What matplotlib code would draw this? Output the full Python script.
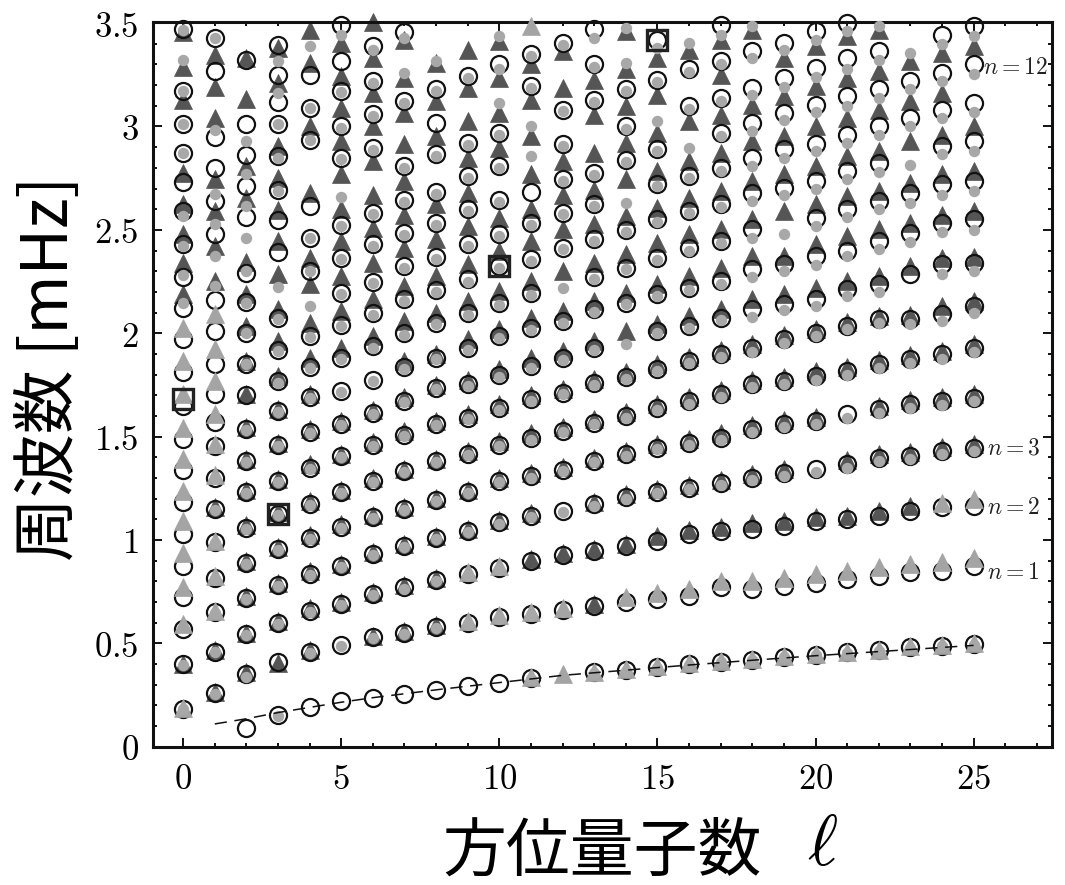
import numpy as np
import matplotlib
matplotlib.use("Agg")
import matplotlib.pyplot as plt

plt.rcParams['mathtext.fontset'] = 'cm'
CJK = ['Noto Sans CJK JP', 'DejaVu Sans']

# azimuthal degree of every column
ell = list(range(26))

# model frequencies [mHz], one list per degree (open circles)
circles = [
    [0.18, 0.40, 0.57, 0.725, 0.875, 1.03, 1.185, 1.34, 1.49, 1.65, 1.81, 1.97, 2.12, 2.27, 2.43, 2.59, 2.73, 2.87, 3.01, 3.17, 3.47],
    [0.26, 0.46, 0.65, 0.815, 0.99, 1.15, 1.30, 1.455, 1.57, 1.705, 1.85, 2.01, 2.16, 2.48, 2.64, 2.80, 2.95, 3.27, 3.43],
    [0.09, 0.35, 0.545, 0.72, 0.89, 1.06, 1.23, 1.38, 1.535, 1.70, 1.85, 2.00, 2.15, 2.29, 2.56, 2.71, 2.86, 3.01, 3.32],
    [0.155, 0.41, 0.60, 0.78, 0.955, 1.125, 1.285, 1.46, 1.625, 1.77, 1.92, 2.075, 2.395, 2.55, 2.695, 2.855, 3.01, 3.12, 3.25, 3.395],
    [0.19, 0.46, 0.655, 0.835, 1.01, 1.175, 1.35, 1.52, 1.69, 1.835, 1.985, 2.30, 2.46, 2.615, 2.935, 3.09, 3.25],
    [0.22, 0.49, 0.69, 0.875, 1.065, 1.23, 1.405, 1.56, 1.72, 1.88, 2.04, 2.195, 2.365, 2.525, 2.85, 3.0, 3.17, 3.315, 3.49],
    [0.235, 0.53, 0.74, 0.93, 1.11, 1.285, 1.46, 1.615, 1.775, 1.94, 2.10, 2.25, 2.43, 2.58, 2.895, 3.06, 3.22, 3.39],
    [0.255, 0.55, 0.77, 0.97, 1.15, 1.335, 1.51, 1.67, 1.835, 2.0, 2.165, 2.325, 2.485, 2.645, 2.81, 3.125, 3.455],
    [0.275, 0.58, 0.805, 1.01, 1.195, 1.38, 1.56, 1.735, 1.88, 2.05, 2.21, 2.37, 2.535, 2.685, 2.865, 3.015, 3.18],
    [0.295, 0.60, 0.835, 1.045, 1.23, 1.415, 1.59, 1.755, 1.93, 2.10, 2.26, 2.43, 2.60, 2.76, 2.92, 3.245],
    [0.31, 0.625, 0.865, 1.085, 1.285, 1.46, 1.64, 1.80, 1.985, 2.145, 2.325, 2.48, 2.645, 2.81, 2.97, 3.30],
    [0.33, 0.64, 0.90, 1.115, 1.31, 1.495, 1.68, 1.84, 2.025, 2.195, 2.36, 2.535, 2.685, 3.195, 3.35],
    [0.66, 0.925, 1.14, 1.34, 1.525, 1.71, 1.88, 2.06, 2.41, 2.58, 2.745, 2.915, 3.08, 3.405],
    [0.36, 0.68, 0.945, 1.175, 1.38, 1.565, 1.76, 1.93, 2.115, 2.27, 2.455, 2.625, 2.775, 3.13, 3.30, 3.47],
    [0.37, 0.70, 0.97, 1.21, 1.415, 1.60, 1.79, 2.145, 2.315, 2.50, 2.84, 3.00, 3.18],
    [0.383, 0.714, 0.996, 1.232, 1.447, 1.64, 1.825, 2.011, 2.188, 2.365, 2.551, 2.72, 2.889, 3.227, 3.42],
    [0.398, 0.73, 1.028, 1.252, 1.471, 1.672, 1.866, 2.035, 2.22, 2.413, 2.591, 2.76, 3.098, 3.276],
    [0.411, 0.77, 1.044, 1.277, 1.495, 1.705, 1.898, 2.075, 2.252, 2.446, 2.623, 2.80, 2.969, 3.138, 3.316, 3.493],
    [0.42, 0.762, 1.052, 1.302, 1.535, 1.753, 1.93, 2.115, 2.309, 2.502, 2.679, 2.848, 3.017, 3.187, 3.364],
    [0.436, 0.778, 1.068, 1.326, 1.56, 1.769, 1.971, 2.14, 2.333, 2.703, 2.889, 3.066, 3.235, 3.404],
    [0.445, 0.794, 1.092, 1.342, 1.576, 1.793, 2.002, 2.164, 2.373, 2.558, 2.736, 2.913, 3.106, 3.283, 3.461],
    [0.456, 0.81, 1.10, 1.366, 1.608, 1.817, 2.035, 2.212, 2.397, 2.599, 2.784, 2.961, 3.146, 3.332, 3.502],
    [0.466, 0.827, 1.117, 1.398, 1.632, 1.85, 2.067, 2.236, 2.446, 2.639, 2.824, 3.001, 3.18, 3.364],
    [0.48, 0.843, 1.141, 1.406, 1.657, 1.874, 2.067, 2.285, 2.486, 2.679, 3.041, 3.219],
    [0.488, 0.851, 1.157, 1.431, 1.672, 1.898, 2.091, 2.333, 2.534, 2.72, 2.905, 3.082, 3.259, 3.444],
    [0.496, 0.875, 1.165, 1.447, 1.689, 1.93, 2.131, 2.341, 2.551, 2.736, 2.929, 3.114, 3.30, 3.485],
]

# dark filled triangles
dark_tri = [
    [0.40, 2.188, 2.34, 2.481, 2.626, 2.776, 3.126, 3.29, 3.455],
    [0.265, 0.47, 1.16, 2.252, 2.421, 2.591, 2.744, 3.041, 3.19, 3.348],
    [0.36, 0.55, 0.73, 0.90, 1.07, 1.24, 1.39, 1.545, 1.705, 1.866, 2.035, 2.188, 2.345, 2.655, 2.808, 3.135, 3.33],
    [0.405, 0.61, 0.79, 0.965, 1.135, 1.295, 1.47, 1.635, 1.793, 1.962, 2.115, 2.285, 2.446, 2.595, 2.752, 2.905, 3.211, 3.38],
    [0.47, 0.67, 0.85, 1.025, 1.19, 1.365, 1.535, 1.705, 1.882, 2.051, 2.236, 2.365, 2.68, 3.003, 3.308, 3.469],
    [0.70, 0.885, 1.075, 1.24, 1.415, 1.575, 1.93, 2.107, 2.276, 2.446, 2.599, 2.768, 2.929, 3.09, 3.243, 3.404],
    [0.535, 0.75, 0.94, 1.12, 1.30, 1.475, 1.63, 1.986, 2.164, 2.341, 2.51, 2.671, 2.832, 3.001, 3.163, 3.332, 3.505],
    [0.56, 0.78, 0.98, 1.16, 1.345, 1.525, 1.69, 1.866, 2.059, 2.228, 2.413, 2.574, 2.736, 2.913, 3.066, 3.235, 3.42],
    [0.59, 0.815, 1.02, 1.205, 1.39, 1.575, 1.75, 1.90, 2.099, 2.276, 2.454, 2.623, 2.953, 3.122, 3.308],
    [1.055, 1.24, 1.43, 1.61, 1.775, 1.971, 2.156, 2.333, 2.518, 2.679, 2.848, 3.026, 3.187, 3.372],
    [1.095, 1.30, 1.48, 1.66, 1.825, 2.019, 2.204, 2.397, 2.558, 2.897, 3.066, 3.235, 3.412],
    [0.91, 1.13, 1.325, 1.515, 1.70, 1.882, 2.075, 2.252, 2.446, 2.599, 2.768, 2.953, 3.13, 3.30],
    [0.935, 1.355, 1.545, 1.73, 1.914, 2.107, 2.30, 2.502, 2.671, 2.832, 3.187, 3.364],
    [0.69, 0.955, 1.185, 1.395, 1.585, 1.78, 1.962, 2.156, 2.341, 2.526, 2.695, 2.873, 3.058, 3.227],
    [0.98, 1.22, 1.43, 1.62, 1.81, 2.011, 2.196, 2.381, 2.566, 2.744, 2.921, 3.098, 3.276, 3.46],
    [1.02, 1.245, 1.465, 1.66, 1.85, 2.043, 2.236, 2.438, 2.607, 2.784, 2.969, 3.154, 3.332],
    [1.05, 1.265, 1.49, 1.69, 1.885, 2.083, 2.276, 2.478, 2.655, 2.832, 3.026, 3.372],
    [1.065, 1.29, 1.515, 1.725, 1.92, 2.115, 2.317, 2.502, 2.687, 2.873, 3.058, 3.251, 3.42],
    [1.084, 1.32, 1.555, 1.775, 1.946, 2.164, 2.373, 2.551, 2.736, 2.929, 3.106, 3.469],
    [1.09, 1.345, 1.58, 1.79, 1.99, 2.188, 2.373, 2.591, 2.768, 2.953, 3.146, 3.332],
    [1.11, 1.595, 1.815, 2.02, 2.22, 2.43, 2.623, 2.808, 3.001, 3.195, 3.388],
    [1.118, 1.385, 1.835, 2.055, 2.252, 2.47, 2.663, 2.856, 3.041, 3.235, 3.436],
    [1.14, 1.415, 1.65, 1.87, 2.085, 2.276, 2.502, 2.687, 2.88, 3.082, 3.267, 3.469],
    [1.165, 1.425, 1.675, 1.895, 2.09, 2.325, 2.534, 2.727, 2.929, 3.122, 3.316],
    [1.45, 1.69, 1.915, 2.131, 2.365, 2.574, 2.768, 2.961, 3.163, 3.356],
    [1.465, 1.705, 1.95, 2.156, 2.37, 2.591, 2.784, 3.003, 3.388],
]

# light gray triangles
gray_tri = [
    [0.185, 0.593, 0.77, 0.939, 1.092, 1.237, 1.39, 1.543, 1.705, 1.866, 2.024],
    [0.655, 0.825, 0.995, 1.315, 1.463, 1.608, 1.769, 1.922, 2.091],
    [], [], [], [], [], [], [],
    [0.61, 0.845],
    [0.635, 0.875],
    [0.335, 0.65, 3.485],
    [0.351, 0.67],
    [0.362],
    [0.375, 0.725],
    [0.388, 0.745],
    [0.403, 0.765],
    [0.415, 0.80],
    [0.422, 0.80],
    [0.44, 0.818],
    [0.45, 0.834],
    [0.46, 0.85],
    [0.47, 0.867],
    [0.485, 0.883],
    [0.49, 0.891, 1.18],
    [0.50, 0.915, 1.197],
]

# light gray dots
gray_dot = [
    [0.18, 0.395, 2.147, 2.28, 2.421, 2.566, 2.873, 3.013, 3.171, 3.324, 3.469],
    [0.255, 0.46, 0.645, 0.81, 0.985, 1.145, 1.30, 2.228, 2.373, 2.526, 2.675, 2.985, 3.428],
    [0.335, 0.54, 0.715, 0.885, 1.055, 1.225, 1.375, 1.53, 1.85, 2.0, 2.147, 2.30, 2.462, 2.615, 2.768, 2.932],
    [0.15, 0.595, 0.775, 0.95, 1.12, 1.28, 1.455, 1.62, 1.76, 1.915, 2.07, 2.223, 2.69, 2.85, 3.01, 3.163, 3.316],
    [0.455, 0.65, 0.83, 1.005, 1.17, 1.345, 1.515, 1.685, 1.83, 1.98, 2.131, 2.30, 2.46, 2.935, 3.09, 3.388],
    [0.485, 0.685, 0.87, 1.06, 1.225, 1.40, 1.555, 1.715, 1.875, 2.035, 2.19, 2.36, 2.52, 2.658, 2.845, 2.995, 3.165, 3.444],
    [0.525, 0.735, 0.925, 1.105, 1.28, 1.455, 1.61, 1.77, 1.93, 2.09, 2.245, 2.42, 2.575, 2.885, 3.05, 3.21, 3.37],
    [0.545, 0.765, 0.965, 1.145, 1.33, 1.505, 1.665, 1.825, 1.99, 2.155, 2.315, 2.475, 2.635, 2.80, 3.115, 3.259, 3.43],
    [0.575, 0.80, 1.005, 1.19, 1.375, 1.555, 1.73, 1.875, 2.045, 2.20, 2.36, 2.525, 2.675, 2.855, 3.17, 3.316],
    [0.595, 0.83, 1.04, 1.225, 1.41, 1.585, 1.745, 1.92, 2.09, 2.25, 2.42, 2.59, 2.75, 2.91, 3.235],
    [0.62, 0.86, 1.075, 1.28, 1.455, 1.63, 1.79, 1.975, 2.135, 2.315, 2.47, 2.635, 2.80, 2.96, 3.114, 3.28, 3.436],
    [0.325, 0.635, 1.11, 1.30, 1.485, 1.67, 1.83, 2.015, 2.185, 2.35, 2.525, 2.856, 3.001, 3.185, 3.34],
    [1.135, 1.335, 1.52, 1.705, 1.87, 2.05, 2.22, 2.405, 2.575, 2.735, 2.905, 3.075, 3.395],
    [0.355, 1.165, 1.375, 1.56, 1.75, 1.92, 2.105, 2.26, 2.445, 2.615, 2.765, 3.12, 3.29, 3.428],
    [0.368, 1.20, 1.405, 1.59, 1.78, 1.946, 2.14, 2.31, 2.49, 2.631, 2.83, 2.99, 3.17, 3.308, 3.475],
    [0.38, 1.225, 1.44, 1.63, 1.815, 2.0, 2.18, 2.355, 2.54, 2.71, 2.88, 3.026, 3.215, 3.38],
    [0.395, 1.245, 1.46, 1.66, 1.855, 2.025, 2.21, 2.40, 2.58, 2.75, 2.897, 3.085, 3.265, 3.404],
    [0.408, 1.265, 1.485, 1.69, 1.885, 2.065, 2.24, 2.435, 2.61, 2.785, 2.955, 3.125, 3.30, 3.444],
    [0.418, 1.29, 1.52, 1.74, 1.91, 2.08, 2.27, 2.46, 2.64, 2.81, 2.98, 3.15, 3.33, 3.485],
    [0.434, 1.31, 1.545, 1.755, 1.955, 2.11, 2.30, 2.478, 2.67, 2.85, 3.03, 3.19, 3.37],
    [0.443, 1.33, 1.56, 1.775, 1.985, 2.13, 2.33, 2.52, 2.70, 2.88, 3.07, 3.24, 3.42],
    [0.454, 1.35, 1.59, 1.80, 2.02, 2.18, 2.373, 2.56, 2.745, 2.92, 3.10, 3.28, 3.461],
    [0.464, 1.38, 1.615, 1.83, 2.05, 2.20, 2.405, 2.60, 2.78, 2.96, 3.14, 3.32, 3.485],
    [0.478, 1.39, 1.64, 1.855, 2.045, 2.44, 2.63, 2.816, 3.0, 3.18, 3.356],
    [0.486, 1.415, 1.655, 1.875, 2.06, 2.285, 2.49, 2.67, 2.865, 3.04, 3.22, 3.40],
    [0.494, 1.43, 1.67, 1.91, 2.10, 2.30, 2.50, 2.69, 2.88, 3.07, 3.255, 3.44],
]

# highlighted modes (open squares)
box_ell = [0, 3, 10, 15]
box_nu = [1.68, 1.125, 2.325, 3.42]

# f-mode curve (dashed)
fmode_ell = [1, 2, 3, 4, 5, 6, 7, 8, 10, 12, 14, 16, 18, 20, 22, 24, 25]
fmode_nu = [0.11, 0.135, 0.165, 0.19, 0.215, 0.237, 0.256, 0.275, 0.31, 0.345,
            0.37, 0.395, 0.418, 0.44, 0.46, 0.48, 0.49]

# ridge labels on the right
ridge_text = ['$n = 12$', '$n = 3$', '$n = 2$', '$n = 1$']
ridge_ell = [25.30, 25.43, 25.43, 25.43]
ridge_nu = [3.29, 1.447, 1.16, 0.846]

xtick_vals = [0, 5, 10, 15, 20, 25]
ytick_vals = [0, 0.5, 1, 1.5, 2, 2.5, 3, 3.5]
ytick_text = ['0', '0.5', '1', '1.5', '2', '2.5', '3', '3.5']


def flatten(cols):
    xs, ys = [], []
    for l, vals in zip(ell, cols):
        xs += [l] * len(vals)
        ys += vals
    return xs, ys


fig = plt.figure(figsize=(10.65, 8.85), dpi=100)
ax = fig.add_axes([0.1432, 0.1563, 0.8443, 0.8192])

x, y = flatten(dark_tri)
ax.plot(x, y, ls='none', marker='^', ms=12.8, mfc='#555555', mec='#555555',
        mew=0.5, zorder=2, clip_on=False)
x, y = flatten(circles)
ax.plot(x, y, ls='none', marker='o', ms=12.3, mfc='none', mec='#111111',
        mew=1.6, zorder=3, clip_on=False)
x, y = flatten(gray_tri)
ax.plot(x, y, ls='none', marker='^', ms=12.8, mfc='#a4a4a4', mec='#a4a4a4',
        mew=0.5, zorder=4, clip_on=False)
x, y = flatten(gray_dot)
ax.plot(x, y, ls='none', marker='o', ms=8.2, mfc='#a8a8a8', mec='none',
        zorder=5, clip_on=False)
ax.plot(box_ell, box_nu, ls='none', marker='s', ms=15, mfc='none',
        mec='#222222', mew=2.4, zorder=6, clip_on=False)
ax.plot(fmode_ell, fmode_nu, color='#111111', lw=1.1, ls='--',
        dashes=(8, 5), zorder=7)

for txt, l, nu in zip(ridge_text, ridge_ell, ridge_nu):
    ax.text(l, nu, txt, fontsize=17, ha='left', va='center', color='#222222')

ax.set_xlim(-0.97, 27.47)
ax.set_ylim(0, 3.507)
ax.set_xticks(xtick_vals)
ax.set_xticklabels(['$%d$' % v for v in xtick_vals], fontsize=25)
ax.set_xticks(range(0, 28), minor=True)
ax.set_yticks(ytick_vals)
ax.set_yticklabels(['$%s$' % t for t in ytick_text], fontsize=25)
ax.set_yticks(np.arange(0, 3.55, 0.1), minor=True)
ax.tick_params(which='both', direction='in', top=True, right=True,
               width=1.4, color='#111111')
ax.tick_params(which='major', length=6.5)
ax.tick_params(axis='x', which='major', pad=11)
ax.tick_params(axis='y', which='major', pad=10)
ax.tick_params(which='minor', length=3)
for sp in ax.spines.values():
    sp.set_linewidth(2.2)
    sp.set_color('#111111')

fig.text(602 / 1065, 1 - 852 / 885, '方位量子数', ha='center', va='center',
         fontsize=46, family=CJK)
fig.text(822 / 1065, 1 - 846 / 885, r'$\ell$', ha='center', va='center',
         fontsize=52)
fig.text(50 / 1065, 1 - 368 / 885, '周波数 [mHz]', ha='center', va='center',
         rotation=90, fontsize=46, family=CJK)

fig.savefig('out.png', dpi=100)
